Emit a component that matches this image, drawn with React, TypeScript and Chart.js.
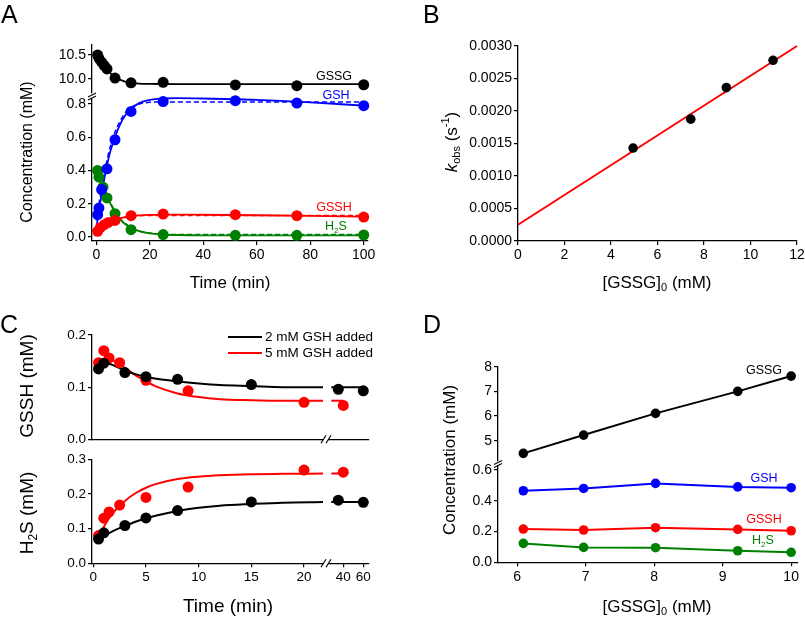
import React, { useEffect, useRef } from 'react';
import { Chart, registerables } from 'chart.js';

Chart.register(...registerables);

const FONT = '"Liberation Sans", Arial, Helvetica, sans-serif';
Chart.defaults.font.family = FONT;
Chart.defaults.color = '#000';

const BLACK = '#000000';
const BLUE = '#0000ff';
const RED = '#ff0000';
const GREEN = '#008000';

// ---------------- Panel A ----------------
const aTimeGSSG = [0.5, 1, 2, 3, 4, 7, 13, 25, 52, 75, 100];
const aGSSG = [10.5, 10.43, 10.35, 10.28, 10.21, 10.02, 9.92, 9.93, 9.875, 9.86, 9.88];
const aTimeGSH = [0.5, 1, 2, 4, 7, 13, 25, 52, 75, 100];
const aGSH = [0.134, 0.174, 0.285, 0.41, 0.585, 0.755, 0.815, 0.82, 0.806, 0.79];
const aTimeGSSH = [0.5, 1.5, 3, 4.5, 7, 13, 25, 52, 75, 100];
const aGSSH = [0.034, 0.056, 0.074, 0.088, 0.1, 0.128, 0.138, 0.134, 0.128, 0.12];
const aTimeH2S = [0.5, 1, 2.5, 4, 7, 13, 25, 52, 75, 100];
const aH2S = [0.4, 0.36, 0.3, 0.235, 0.14, 0.044, 0.015, 0.01, 0.01, 0.012];

const aFitT = [0, 1, 2, 3, 4, 5, 7, 9, 11, 13, 16, 20, 25, 30, 40, 60, 80, 100];
const aFitGSSG = [10.52, 10.44, 10.36, 10.28, 10.21, 10.14, 10.04, 9.98, 9.94, 9.92, 9.905, 9.898, 9.895, 9.893, 9.892, 9.892, 9.892, 9.892];
const aFitGSH = [0.05, 0.16, 0.26, 0.35, 0.43, 0.5, 0.6, 0.68, 0.735, 0.77, 0.805, 0.825, 0.833, 0.835, 0.833, 0.825, 0.81, 0.79];
const aFitGSHdash = [0.1, 0.2, 0.29, 0.38, 0.46, 0.53, 0.63, 0.7, 0.75, 0.78, 0.8, 0.81, 0.812, 0.812, 0.812, 0.812, 0.812, 0.812];
const aFitGSSH = [0.03, 0.045, 0.058, 0.07, 0.08, 0.09, 0.104, 0.113, 0.12, 0.125, 0.13, 0.133, 0.135, 0.135, 0.134, 0.131, 0.127, 0.122];
const aFitGSSHdash = [0.03, 0.046, 0.06, 0.073, 0.085, 0.095, 0.107, 0.115, 0.12, 0.125, 0.128, 0.13, 0.13, 0.13, 0.13, 0.13, 0.13, 0.13];
const aFitH2S = [0.43, 0.38, 0.33, 0.285, 0.245, 0.21, 0.15, 0.105, 0.075, 0.055, 0.035, 0.022, 0.015, 0.012, 0.01, 0.01, 0.01, 0.01];
const aFitH2Sdash = [0.42, 0.375, 0.33, 0.29, 0.25, 0.215, 0.155, 0.11, 0.08, 0.058, 0.037, 0.024, 0.017, 0.015, 0.015, 0.015, 0.015, 0.015];

const aXTicks = [0, 20, 40, 60, 80, 100];
const aTopTicks = [10.0, 10.5];
const aBotTicks = [0, 0.2, 0.4, 0.6, 0.8];

// ---------------- Panel B ----------------
const bGSSG0 = [4.95, 7.43, 8.96, 10.97];
const bKobs = [0.00143, 0.001875, 0.00236, 0.00278];
const bFitX = [0, 12];
const bFitY = [0.00025, 0.003];
const bXTicks = [0, 2, 4, 6, 8, 10, 12];
const bYTicks = [0, 0.0005, 0.001, 0.0015, 0.002, 0.0025, 0.003];

// ---------------- Panel C ----------------
const cTimeBlack = [0.5, 1, 3, 5, 8, 15, 35, 60];
const cGSSHBlack = [0.135, 0.146, 0.128, 0.12, 0.115, 0.105, 0.096, 0.093];
const cH2SBlack = [0.07, 0.088, 0.109, 0.131, 0.152, 0.177, 0.182, 0.176];
const cTimeRed = [0.5, 1, 1.5, 2.5, 5, 9, 20, 40];
const cGSSHRed = [0.147, 0.17, 0.156, 0.147, 0.113, 0.093, 0.071, 0.065];
const cH2SRed = [0.08, 0.13, 0.148, 0.168, 0.19, 0.22, 0.269, 0.263];

const cFitT = [0.5, 1, 1.5, 2, 3, 4, 5, 6, 8, 10, 12, 15, 18, 21.8];
const cFitGSSHBlack = [0.138, 0.146, 0.145, 0.141, 0.132, 0.125, 0.12, 0.116, 0.111, 0.107, 0.104, 0.102, 0.1, 0.1];
const cFitGSSHRed = [0.15, 0.153, 0.153, 0.15, 0.137, 0.123, 0.111, 0.101, 0.088, 0.081, 0.077, 0.075, 0.074, 0.074];
const cFitH2SBlack = [0.067, 0.078, 0.087, 0.095, 0.108, 0.12, 0.13, 0.138, 0.151, 0.16, 0.166, 0.171, 0.175, 0.177];
const cFitH2SRed = [0.075, 0.105, 0.13, 0.15, 0.18, 0.202, 0.218, 0.229, 0.243, 0.25, 0.254, 0.257, 0.258, 0.259];
const cFit2TBlack = [28, 60];
const cFit2TRed = [28, 40];
const cFit2GSSHBlack = [0.1, 0.1];
const cFit2GSSHRed = [0.074, 0.074];
const cFit2H2SBlack = [0.177, 0.177];
const cFit2H2SRed = [0.259, 0.259];

const cXTicks1 = [0, 5, 10, 15, 20];
const cXTicks2 = [40, 60];
const cTopYTicks = [0, 0.1, 0.2];
const cBotYTicks = [0, 0.1, 0.2, 0.3];
const cLegend = ['2 mM GSH added', '5 mM GSH added'];

// ---------------- Panel D ----------------
const dGSSG0 = [6.09, 6.97, 8.02, 9.22, 10.0];
const dGSSG = [4.49, 5.23, 6.11, 7.0, 7.62];
const dGSH = [0.465, 0.48, 0.513, 0.49, 0.485];
const dGSSH = [0.216, 0.21, 0.225, 0.214, 0.205];
const dH2S = [0.123, 0.097, 0.095, 0.075, 0.065];
const dXTicks = [6, 7, 8, 9, 10];
const dTopTicks = [5, 6, 7, 8];
const dBotTicks = [0, 0.2, 0.4, 0.6];

// ---------------- helpers ----------------
type XY = { x: number; y: number };
const zip = (xs: number[], ys: number[]): XY[] => xs.map((x, i) => ({ x, y: ys[i] }));
const seg1 = (xs: number[], ys: number[]) => zip(xs, ys).filter((p) => p.x < 25);
const seg2 = (xs: number[], ys: number[]) => zip(xs, ys).filter((p) => p.x >= 25);

const pts = (data: XY[], color: string, r = 5) => ({
  data,
  showLine: false,
  pointRadius: r,
  pointBackgroundColor: color,
  pointBorderColor: color,
  pointBorderWidth: 0,
  clip: false,
  order: 0,
});
const fit = (data: XY[], color: string, w = 1.8, dash: number[] = []) => ({
  data,
  showLine: true,
  borderColor: color,
  borderWidth: w,
  borderDash: dash,
  pointRadius: 0,
  cubicInterpolationMode: 'monotone',
  fill: false,
  clip: false,
  order: 1,
});
const polyline = (data: XY[], color: string, r = 4.8) => ({
  data,
  showLine: true,
  tension: 0,
  borderColor: color,
  borderWidth: 2,
  pointRadius: r,
  pointBackgroundColor: color,
  pointBorderColor: color,
  pointBorderWidth: 0,
  fill: false,
  clip: false,
});

type Box = { l: number; t: number; r: number; b: number };
type Axis = {
  min: number;
  max: number;
  show: boolean;
  ticks?: number[];
  fmt?: (v: number) => string;
  labels?: boolean;
  marks?: boolean;
  font?: number;
};
type Part = { t: string; sub?: boolean; sup?: boolean; it?: boolean };
type Spec = {
  key: string;
  area: Box;
  marg: Box;
  x: Axis;
  y: Axis;
  datasets: any[];
  deco?: (ctx: CanvasRenderingContext2D) => void;
};

function rich(
  ctx: CanvasRenderingContext2D,
  parts: Part[],
  x: number,
  y: number,
  size: number,
  color: string,
  align: 'left' | 'center' | 'right' = 'center',
  rot = 0
) {
  ctx.save();
  ctx.translate(x, y);
  if (rot) ctx.rotate(rot);
  ctx.fillStyle = color;
  ctx.textAlign = 'left';
  ctx.textBaseline = 'middle';
  const fontFor = (p: Part) =>
    `${p.it ? 'italic ' : ''}${p.sub || p.sup ? Math.round(size * 0.65) : size}px ${FONT}`;
  let total = 0;
  const widths = parts.map((p) => {
    ctx.font = fontFor(p);
    const w = ctx.measureText(p.t).width;
    total += w;
    return w;
  });
  let cx = align === 'center' ? -total / 2 : align === 'right' ? -total : 0;
  parts.forEach((p, i) => {
    ctx.font = fontFor(p);
    const dy = p.sub ? size * 0.32 : p.sup ? -size * 0.33 : 0;
    ctx.fillText(p.t, cx, dy);
    cx += widths[i];
  });
  ctx.restore();
}

function line(ctx: CanvasRenderingContext2D, x1: number, y1: number, x2: number, y2: number, color = '#000', w = 1.2) {
  ctx.save();
  ctx.strokeStyle = color;
  ctx.lineWidth = w;
  ctx.beginPath();
  ctx.moveTo(x1, y1);
  ctx.lineTo(x2, y2);
  ctx.stroke();
  ctx.restore();
}

function letter(ctx: CanvasRenderingContext2D, s: string, x: number, y: number) {
  ctx.save();
  ctx.font = `25px ${FONT}`;
  ctx.fillStyle = '#000';
  ctx.textAlign = 'left';
  ctx.textBaseline = 'alphabetic';
  ctx.fillText(s, x, y);
  ctx.restore();
}

function scaleOpts(a: Axis, isX: boolean, size: number) {
  const base: any = { type: 'linear', min: a.min, max: a.max };
  if (!a.show) return { ...base, display: false };
  const tv = a.ticks ?? [];
  return {
    ...base,
    display: true,
    afterBuildTicks: (s: any) => {
      s.ticks = tv.map((v) => ({ value: v }));
    },
    afterFit: (s: any) => {
      if (isX) s.height = size;
      else s.width = size;
    },
    grid: {
      drawOnChartArea: false,
      drawTicks: a.marks !== false,
      tickLength: 4,
      tickWidth: 1.2,
      tickColor: '#000',
      color: '#000',
      lineWidth: 1.2,
    },
    border: { display: true, color: '#000', width: 1.3 },
    ticks: {
      display: a.labels !== false,
      autoSkip: false,
      maxRotation: 0,
      minRotation: 0,
      padding: 2,
      color: '#000',
      font: { size: a.font ?? 14, family: FONT },
      callback: (v: any) => (a.fmt ? a.fmt(Number(v)) : String(v)),
    },
  };
}

function Panel({ spec }: { spec: Spec }) {
  const ref = useRef<HTMLCanvasElement>(null);
  const { area, marg } = spec;
  const cl = Math.round(area.l - marg.l);
  const ct = Math.round(area.t - marg.t);
  const cr = Math.round(area.r + marg.r);
  const cb = Math.round(area.b + marg.b);
  const w = cr - cl;
  const h = cb - ct;
  useEffect(() => {
    const ml = area.l - cl;
    const mt = area.t - ct;
    const mr = cr - area.r;
    const mb = cb - area.b;
    const chart = new Chart(ref.current as HTMLCanvasElement, {
      type: 'line',
      data: { datasets: spec.datasets },
      options: {
        responsive: false,
        maintainAspectRatio: false,
        animation: false,
        devicePixelRatio: 1,
        events: [],
        layout: {
          padding: {
            left: spec.y.show ? 0 : ml,
            top: mt,
            right: mr,
            bottom: spec.x.show ? 0 : mb,
          },
        },
        plugins: { legend: { display: false }, tooltip: { enabled: false }, title: { display: false } },
        scales: { x: scaleOpts(spec.x, true, mb), y: scaleOpts(spec.y, false, ml) },
      },
      plugins: [
        {
          id: 'deco',
          afterDraw: (c: any) => {
            if (!spec.deco) return;
            const ctx = c.ctx as CanvasRenderingContext2D;
            ctx.save();
            ctx.translate(-cl, -ct);
            spec.deco(ctx);
            ctx.restore();
          },
        },
      ],
    } as any);
    return () => chart.destroy();
  }, []);
  return (
    <canvas
      ref={ref}
      width={w}
      height={h}
      style={{ position: 'absolute', left: cl, top: ct, width: w, height: h }}
    />
  );
}

const f1 = (v: number) => v.toFixed(1);
const f4 = (v: number) => v.toFixed(4);
const ROT = -Math.PI / 2;

// ---------------- specs ----------------
const aX = { min: -1.6, max: 101.6 };
const cX1 = { min: -0.12, max: 21.8 };
const cX2 = { min: 25, max: 65 };
const dX = { min: 5.72, max: 10.1 };

const specs: Spec[] = [
  // A top (GSSG, broken axis upper part)
  {
    key: 'aTop',
    area: { l: 92, t: 45, r: 368, b: 93 },
    marg: { l: 92, t: 20, r: 32, b: 15 },
    x: { ...aX, show: false },
    y: { min: 9.708, max: 10.708, show: true, ticks: aTopTicks, fmt: f1 },
    datasets: [pts(zip(aTimeGSSG, aGSSG), BLACK, 5.5), fit(zip(aFitT, aFitGSSG), BLACK)],
  },
  // A bottom
  {
    key: 'aBot',
    area: { l: 92, t: 99, r: 368, b: 241 },
    marg: { l: 92, t: 99, r: 32, b: 59 },
    x: { ...aX, show: true, ticks: aXTicks },
    y: { min: -0.024, max: 0.83, show: true, ticks: aBotTicks, fmt: f1 },
    datasets: [
      pts(zip(aTimeGSH, aGSH), BLUE, 5.5),
      pts(zip(aTimeGSSH, aGSSH), RED, 5.5),
      pts(zip(aTimeH2S, aH2S), GREEN, 5.5),
      fit(zip(aFitT, aFitGSH), BLUE),
      fit(zip(aFitT, aFitGSHdash), BLUE, 1.5, [5, 3]),
      fit(zip(aFitT, aFitGSSH), RED),
      fit(zip(aFitT, aFitGSSHdash), RED, 1.5, [5, 3]),
      fit(zip(aFitT, aFitH2S), GREEN),
      fit(zip(aFitT, aFitH2Sdash), GREEN, 1.5, [5, 3]),
    ],
    deco: (ctx) => {
      letter(ctx, 'A', 1, 23);
      line(ctx, 88, 97, 96, 93);
      line(ctx, 88, 100, 96, 96);
      rich(ctx, [{ t: 'Time (min)' }], 230, 283, 17, BLACK);
      rich(ctx, [{ t: 'Concentration (mM)' }], 28, 152, 16, BLACK, 'center', ROT);
      rich(ctx, [{ t: 'GSSG' }], 334, 77, 12.5, BLACK);
      rich(ctx, [{ t: 'GSH' }], 336, 96, 12.5, BLUE);
      rich(ctx, [{ t: 'GSSH' }], 334, 208, 12.5, RED);
      rich(ctx, [{ t: 'H' }, { t: '2', sub: true }, { t: 'S' }], 336, 227, 12.5, GREEN);
    },
  },
  // B
  {
    key: 'b',
    area: { l: 518, t: 46, r: 797, b: 241 },
    marg: { l: 118, t: 46, r: 25, b: 59 },
    x: { min: 0, max: 12, show: true, ticks: bXTicks },
    y: { min: 0, max: 0.003, show: true, ticks: bYTicks, fmt: f4 },
    datasets: [pts(zip(bGSSG0, bKobs), BLACK, 4.8), fit(zip(bFitX, bFitY), RED, 2)],
    deco: (ctx) => {
      letter(ctx, 'B', 423, 23);
      rich(ctx, [{ t: '[GSSG]' }, { t: '0', sub: true }, { t: ' (mM)' }], 657, 283, 17, BLACK);
      rich(
        ctx,
        [{ t: 'k', it: true }, { t: 'obs', sub: true }, { t: ' (s' }, { t: '-1', sup: true }, { t: ')' }],
        452,
        142,
        17,
        BLACK,
        'center',
        ROT
      );
    },
  },
  // C top, segment 1
  {
    key: 'cTop1',
    area: { l: 92, t: 335, r: 323, b: 439.3 },
    marg: { l: 92, t: 35, r: 50, b: 15 },
    x: { ...cX1, show: true, ticks: cXTicks1, labels: false, marks: false },
    y: { min: 0, max: 0.2, show: true, ticks: cTopYTicks, fmt: f1, font: 13.5 },
    datasets: [
      pts(seg1(cTimeBlack, cGSSHBlack), BLACK, 5.5),
      pts(seg1(cTimeRed, cGSSHRed), RED, 5.5),
      fit(zip(cFitT, cFitGSSHBlack), BLACK, 2),
      fit(zip(cFitT, cFitGSSHRed), RED, 2),
    ],
  },
  // C top, segment 2
  {
    key: 'cTop2',
    area: { l: 328.3, t: 335, r: 368.3, b: 439.3 },
    marg: { l: 10, t: 35, r: 20, b: 15 },
    x: { ...cX2, show: true, ticks: cXTicks2, labels: false, marks: false },
    y: { min: 0, max: 0.2, show: false },
    datasets: [
      pts(seg2(cTimeBlack, cGSSHBlack), BLACK, 5.5),
      pts(seg2(cTimeRed, cGSSHRed), RED, 5.5),
      fit(zip(cFit2TBlack, cFit2GSSHBlack), BLACK, 2),
      fit(zip(cFit2TRed, cFit2GSSHRed), RED, 2),
    ],
  },
  // C bottom, segment 1
  {
    key: 'cBot1',
    area: { l: 92, t: 459.3, r: 323, b: 563.3 },
    marg: { l: 92, t: 159.3, r: 50, b: 54.7 },
    x: { ...cX1, show: true, ticks: cXTicks1, font: 13.5 },
    y: { min: 0, max: 0.3, show: true, ticks: cBotYTicks, fmt: f1, font: 13.5 },
    datasets: [
      pts(seg1(cTimeBlack, cH2SBlack), BLACK, 5.5),
      pts(seg1(cTimeRed, cH2SRed), RED, 5.5),
      fit(zip(cFitT, cFitH2SBlack), BLACK, 2),
      fit(zip(cFitT, cFitH2SRed), RED, 2),
    ],
    deco: (ctx) => {
      letter(ctx, 'C', 0, 333);
      // x-axis breaks
      [439.3, 563.3].forEach((y) => {
        line(ctx, 321, y + 4, 326, y - 4);
        line(ctx, 326, y + 4, 331, y - 4);
      });
      // legend
      line(ctx, 228, 337, 262, 337, BLACK, 2);
      line(ctx, 228, 353, 262, 353, RED, 2);
      rich(ctx, [{ t: cLegend[0] }], 265, 337, 13.5, BLACK, 'left');
      rich(ctx, [{ t: cLegend[1] }], 265, 353, 13.5, BLACK, 'left');
      rich(ctx, [{ t: 'GSSH (mM)' }], 28, 386, 19, BLACK, 'center', ROT);
      rich(ctx, [{ t: 'H' }, { t: '2', sub: true }, { t: 'S (mM)' }], 28, 513, 19, BLACK, 'center', ROT);
      rich(ctx, [{ t: 'Time (min)' }], 228, 607, 19, BLACK);
    },
  },
  // C bottom, segment 2
  {
    key: 'cBot2',
    area: { l: 328.3, t: 459.3, r: 368.3, b: 563.3 },
    marg: { l: 10, t: 15, r: 20, b: 54.7 },
    x: { ...cX2, show: true, ticks: cXTicks2, font: 13.5 },
    y: { min: 0, max: 0.3, show: false },
    datasets: [
      pts(seg2(cTimeBlack, cH2SBlack), BLACK, 5.5),
      pts(seg2(cTimeRed, cH2SRed), RED, 5.5),
      fit(zip(cFit2TBlack, cFit2H2SBlack), BLACK, 2),
      fit(zip(cFit2TRed, cFit2H2SRed), RED, 2),
    ],
  },
  // D top (GSSG)
  {
    key: 'dTop',
    area: { l: 498, t: 366.7, r: 798, b: 461 },
    marg: { l: 98, t: 20, r: 25, b: 15 },
    x: { ...dX, show: false },
    y: { min: 4.18, max: 8, show: true, ticks: dTopTicks },
    datasets: [polyline(zip(dGSSG0, dGSSG), BLACK)],
  },
  // D bottom
  {
    key: 'dBot',
    area: { l: 498, t: 466, r: 798, b: 562.3 },
    marg: { l: 98, t: 166, r: 25, b: 55.7 },
    x: { ...dX, show: true, ticks: dXTicks },
    y: { min: 0, max: 0.626, show: true, ticks: dBotTicks, fmt: f1 },
    datasets: [
      polyline(zip(dGSSG0, dGSH), BLUE),
      polyline(zip(dGSSG0, dGSSH), RED),
      polyline(zip(dGSSG0, dH2S), GREEN),
    ],
    deco: (ctx) => {
      letter(ctx, 'D', 423, 333);
      line(ctx, 494, 464.5, 502, 460.5);
      line(ctx, 494, 467.5, 502, 463.5);
      rich(ctx, [{ t: 'Concentration (mM)' }], 450, 460, 17, BLACK, 'center', ROT);
      rich(ctx, [{ t: '[GSSG]' }, { t: '0', sub: true }, { t: ' (mM)' }], 657, 607, 17, BLACK);
      rich(ctx, [{ t: 'GSSG' }], 764, 371, 12.5, BLACK);
      rich(ctx, [{ t: 'GSH' }], 764, 479, 12.5, BLUE);
      rich(ctx, [{ t: 'GSSH' }], 764, 520, 12.5, RED);
      rich(ctx, [{ t: 'H' }, { t: '2', sub: true }, { t: 'S' }], 763, 541, 12.5, GREEN);
    },
  },
];

export default function App() {
  return (
    <div
      style={{
        position: 'fixed',
        left: 0,
        top: 0,
        width: 805,
        height: 618,
        overflow: 'hidden',
        background: '#ffffff',
      }}
    >
      {specs.map((s) => (
        <Panel key={s.key} spec={s} />
      ))}
    </div>
  );
}
